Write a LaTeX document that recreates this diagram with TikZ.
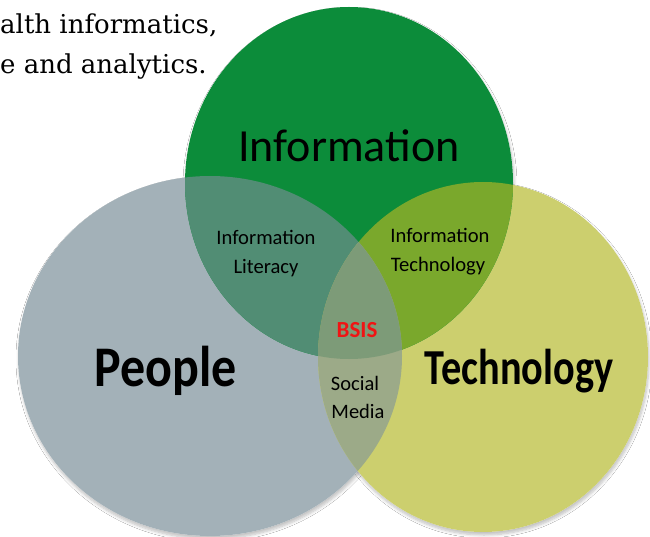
\documentclass[tikz,border=0pt]{standalone}
\usepackage{fontspec}
\newfontfamily\calfont{Carlito}
\newfontfamily\serfont{DejaVu Serif}
\usetikzlibrary{shadows.blur}
\definecolor{cgreen}{HTML}{0C8C3A}
\definecolor{cgray}{HTML}{A3B1B8}
\definecolor{cyellow}{HTML}{CCCF6E}
\definecolor{cgg}{HTML}{518D74}
\definecolor{cgy}{HTML}{7AA82C}
\definecolor{cyg}{HTML}{9CAA88}
\definecolor{call}{HTML}{7D9B78}
\definecolor{cred}{HTML}{F01414}
\tikzset{
  ringshadow/.style={fill=white, blur shadow={shadow xshift=1pt, shadow yshift=-3pt, shadow blur steps=6, shadow blur radius=3pt, shadow opacity=25}},
  lbl/.style={inner sep=0pt, anchor=base, text=black},
  small/.style={lbl, font=\calfont\fontsize{20.6}{24}\selectfont},
  big/.style={lbl, font=\calfont\bfseries\fontsize{#1}{#1}\selectfont},
  sertext/.style={inner sep=0pt, anchor=base west, font=\serfont\fontsize{26}{30}\selectfont}
}
\begin{document}
\begin{tikzpicture}[x=1pt,y=-1pt]
\useasboundingbox (0,0) rectangle (650,537);
\fill[white] (0,0) rectangle (650,537);
\begin{scope}
\clip (0,0) rectangle (650,537);
% shadows
\path[ringshadow] (210,356) ellipse [x radius=192, y radius=180];
\path[ringshadow] (483,357) ellipse [x radius=165, y radius=175];
\path[ringshadow] (349,183) ellipse [x radius=164, y radius=176];
% plain fills
\fill[cgray] (210,356) ellipse [x radius=192, y radius=180];
\fill[cyellow] (483,357) ellipse [x radius=165, y radius=175];
\fill[cgreen] (349,183) ellipse [x radius=164, y radius=176];
% overlaps
\begin{scope}
  \clip (349,183) ellipse [x radius=164, y radius=176];
  \fill[cgg] (210,356) ellipse [x radius=192, y radius=180];
  \fill[cgy] (483,357) ellipse [x radius=165, y radius=175];
\end{scope}
\begin{scope}
  \clip (210,356) ellipse [x radius=192, y radius=180];
  \fill[cyg] (483,357) ellipse [x radius=165, y radius=175];
  \clip (483,357) ellipse [x radius=165, y radius=175];
  \fill[call] (349,183) ellipse [x radius=164, y radius=176];
\end{scope}
% top-left text
\node[sertext] (t1) at (0,34) {alth informatics,};
\node[sertext] (t2) at (0,74) {e and analytics.};
\end{scope}
% labels
\node[lbl, font=\calfont\fontsize{46}{46}\selectfont] (info) at (349,162) {Information};
\node[big=50] (people) at (166,386) {\scalebox{1}[1.15]{People}};
\node[big=40.3] (tech) at (519,384) {\scalebox{1}[1.25]{Technology}};
\node[small] (il1) at (266,245) {Information};
\node[small] (il2) at (266,273) {Literacy};
\node[small] (it1) at (440,243) {Information};
\node[small] (it2) at (438,272) {Technology};
\node[big=23, text=cred] (bsis) at (357,337) {BSIS};
\node[lbl, font=\calfont\fontsize{20.5}{24}\selectfont] (sm1) at (355,390) {Social};
\node[lbl, font=\calfont\fontsize{20.5}{24}\selectfont] (sm2) at (358,418) {Media};
\end{tikzpicture}
\end{document}
